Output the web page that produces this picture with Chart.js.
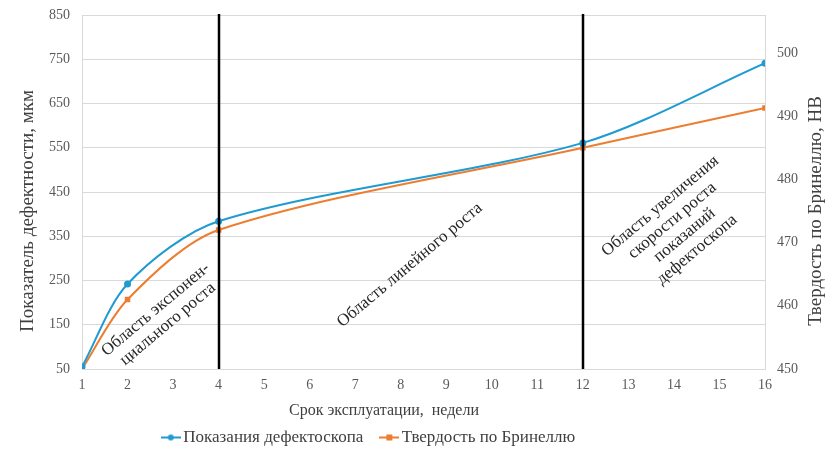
<!DOCTYPE html>
<html><head><meta charset="utf-8">
<script src="https://cdn.jsdelivr.net/npm/chart.js@4/dist/chart.umd.min.js"></script>
<style>html,body{margin:0;padding:0;background:#fff}#wrap{width:832px;height:462px}</style>
</head><body><div id="wrap"><canvas id="c" width="832" height="462"></canvas></div>
<script>
// ---- data ----
const weeks = [1, 2, 4, 12, 16];
const defectoscope = [55, 242, 384, 561, 741];
const brinell = [450, 461, 472, 485, 491.3];
const xTicks = [1, 2, 3, 4, 5, 6, 7, 8, 9, 10, 11, 12, 13, 14, 15, 16];
const leftTicks = [50, 150, 250, 350, 450, 550, 650, 750, 850];
const rightTicks = [450, 460, 470, 480, 490, 500];
const seriesNames = ['Показания дефектоскопа', 'Твердость по Бринеллю'];
const xTitle = 'Срок эксплуатации,  недели';
const leftTitle = 'Показатель дефектности, мкм';
const rightTitle = 'Твердость по Бринеллю, НВ';
const regionBounds = [4, 12];
const regionLabels = [
  {x: 2.75, y: 168, lines: ['Область экспонен-', 'циального роста']},
  {x: 8.2, y: 285, lines: ['Область линейного роста']},
  {x: 14.1, y: 369, lines: ['Область увеличения', 'скорости роста', 'показаний', 'дефектоскопа']}
];

// ---- styles ----
const BLUE = '#1f9bd1', ORANGE = '#ed7d31';
const SERIF = '"Liberation Serif", "Times New Roman", serif';
const GRID = '#d9d9d9';

function legendIcon(color, square) {
  const c = document.createElement('canvas');
  c.width = 20; c.height = 8;
  const g = c.getContext('2d');
  g.strokeStyle = color; g.lineWidth = 2;
  g.beginPath(); g.moveTo(0, 4); g.lineTo(20, 4); g.stroke();
  g.fillStyle = color;
  if (square) g.fillRect(7, 1, 6, 6);
  else { g.beginPath(); g.arc(10, 4, 3, 0, Math.PI * 2); g.fill(); }
  return c;
}
const icons = [legendIcon(BLUE, false), legendIcon(ORANGE, true)];

const decor = {
  id: 'decor',
  afterLayout(chart) {
    const lg = chart.legend;
    if (lg) { lg.right = lg.right - 90; }
  },
  afterDatasetsDraw(chart) {
    const {ctx, chartArea, scales} = chart;
    ctx.save();
    ctx.strokeStyle = '#000'; ctx.lineWidth = 2.5;
    regionBounds.forEach(v => {
      const px = Math.round(scales.x.getPixelForValue(v));
      ctx.beginPath(); ctx.moveTo(px, chartArea.top - 1); ctx.lineTo(px, chartArea.bottom); ctx.stroke();
    });
    ctx.fillStyle = '#262626';
    ctx.font = '17px ' + SERIF;
    ctx.textAlign = 'center'; ctx.textBaseline = 'middle';
    const lh = 19;
    regionLabels.forEach(r => {
      const cx = scales.x.getPixelForValue(r.x), cy = scales.y.getPixelForValue(r.y);
      ctx.save(); ctx.translate(cx, cy); ctx.rotate(-40 * Math.PI / 180);
      const n = r.lines.length;
      r.lines.forEach((t, i) => ctx.fillText(t, 0, (i - (n - 1) / 2) * lh));
      ctx.restore();
    });
    // axis titles
    ctx.fillStyle = '#404040';
    ctx.font = '19px ' + SERIF;
    ctx.save(); ctx.translate(28, 211); ctx.rotate(-Math.PI / 2); ctx.fillText(leftTitle, 0, 0); ctx.restore();
    ctx.save(); ctx.translate(816, 211); ctx.rotate(-Math.PI / 2); ctx.fillText(rightTitle, 0, 0); ctx.restore();
    ctx.font = '16px ' + SERIF;
    ctx.fillText(xTitle, 384, chartArea.bottom + 42);
    ctx.restore();
  }
};

new Chart(document.getElementById('c'), {
  type: 'line',
  data: {
    datasets: [
      {label: seriesNames[0], data: weeks.map((w, i) => ({x: w, y: defectoscope[i]})), yAxisID: 'y',
       borderColor: BLUE, backgroundColor: BLUE, borderWidth: 2, pointRadius: 2.5, pointStyle: 'circle', tension: 0.3},
      {label: seriesNames[1], data: weeks.map((w, i) => ({x: w, y: brinell[i]})), yAxisID: 'y1',
       borderColor: ORANGE, backgroundColor: ORANGE, borderWidth: 2, pointRadius: 2.5, pointStyle: 'rect', tension: 0.3}
    ]
  },
  options: {
    responsive: false, animation: false, devicePixelRatio: 1,
    layout: {padding: {top: 15, left: 0, right: 0, bottom: 6}},
    plugins: {
      tooltip: {enabled: false},
      legend: {
        position: 'bottom',
        labels: {
          font: {family: SERIF, size: 17}, color: '#404040', usePointStyle: true, pointStyleWidth: 8, padding: 22,
          generateLabels(chart) {
            const items = Chart.defaults.plugins.legend.labels.generateLabels(chart);
            items.forEach((it, i) => { it.pointStyle = icons[i]; });
            return items;
          }
        }
      }
    },
    scales: {
      x: {
        type: 'linear', min: 1, max: 16,
        afterBuildTicks(s) { s.ticks = xTicks.map(v => ({value: v})); },
        afterFit(s) { s.height = s.chart.height - 6 - (s.chart.legend ? s.chart.legend.height : 0) - 369; },
        ticks: {font: {family: SERIF, size: 14}, color: '#595959', padding: 8, maxRotation: 0, autoSkip: false},
        grid: {display: false, drawTicks: false},
        border: {display: true, color: GRID}
      },
      y: {
        position: 'left', min: 50, max: 850,
        afterBuildTicks(s) { s.ticks = leftTicks.map(v => ({value: v})); },
        afterFit(s) { s.width = 82; s.paddingTop = 0; s.paddingBottom = 0; },
        ticks: {font: {family: SERIF, size: 14}, color: '#595959', padding: 12},
        grid: {color: GRID, drawTicks: false},
        border: {display: true, color: GRID}
      },
      y1: {
        position: 'right', min: 450, max: 506,
        afterBuildTicks(s) { s.ticks = rightTicks.map(v => ({value: v})); },
        afterFit(s) { s.width = 67; s.paddingTop = 0; s.paddingBottom = 0; },
        ticks: {font: {family: SERIF, size: 14}, color: '#595959', padding: 12},
        grid: {display: false, drawTicks: false},
        border: {display: true, color: GRID}
      }
    }
  },
  plugins: [decor]
});
</script></body></html>
